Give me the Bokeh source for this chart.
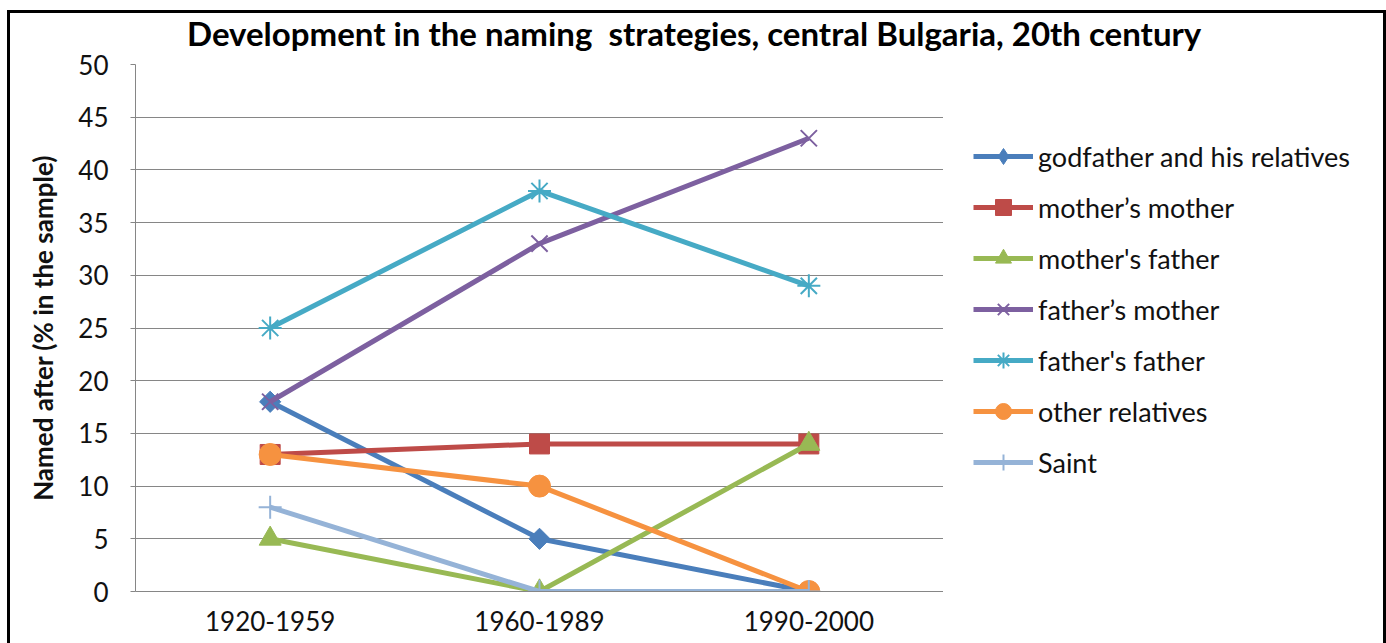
import math
from bokeh.plotting import figure
from bokeh.layouts import column, row
from bokeh.models import (Range1d, FactorRange, FixedTicker, Legend, LegendItem,
                          ColumnDataSource, Div)
from bokeh.embed import file_html
from bokeh.resources import INLINE

# ---------------- data ----------------
periods = ["1920-1959", "1960-1989", "1990-2000"]
godfather = [18, 5, 0]
mothers_mother = [13, 14, 14]
mothers_father = [5, 0, 14]
fathers_mother = [18, 33, 43]
fathers_father = [25, 38, 29]
other_relatives = [13, 10, 0]
saint = [8, 0, 0]
series_names = ["godfather and his relatives", "mother\u2019s mother", "mother's father",
                "father\u2019s mother", "father's father", "other relatives", "Saint"]
y_ticks = [0, 5, 10, 15, 20, 25, 30, 35, 40, 45, 50]
title_text = "Development in the naming  strategies, central Bulgaria, 20th century"
y_label = "Named after (% in the sample)"

# ---------------- style ----------------
FONT = "Lato"
colors = ["#4A7EBB", "#BE4B48", "#98B954", "#7D60A0", "#46AAC5", "#F69240", "#95B3D7"]
markers = ["square", "square", "triangle", "x", "asterisk", "circle", "cross"]
legend_markers = ["diamond", "square", "triangle", "x", "asterisk", "circle", "cross"]
msizes = [15, 20, 22, 23, 23, 22, 23]
mangles = [math.pi / 4, 0, 0, 0, 0, 0, 0]
mlw = [1, 1, 1, 2, 2, 1, 2]

# whole chart placed at page (7, 10)
OX, OY = 7, 10
TOTAL_W, TOTAL_H = 1386 - OX, 643 - OY
TITLE_H = 37
MAIN_W = 943 - OX                    # main plot ends where the plot area ends
LEG_W = TOTAL_W - MAIN_W
PLOT_H = TOTAL_H - TITLE_H
FRAME_L = 135 - OX
FRAME_T = 64 - OY - TITLE_H
FRAME_H = 527

title_div = Div(
    text=('<div style="font-family:Lato; font-weight:bold; font-size:33px; '
          'line-height:44px; padding-top:1px; padding-left:180px; color:#000; '
          'white-space:pre; margin:0; overflow:visible">' + title_text + '</div>'),
    width=TOTAL_W, height=TITLE_H, margin=(0, 0, 0, 0),
    styles={"overflow": "visible"})

p = figure(width=MAIN_W, height=PLOT_H, output_backend="svg", toolbar_location=None,
           title=None,
           x_range=FactorRange(factors=periods, range_padding=0),
           y_range=Range1d(0, 50),
           min_border_left=FRAME_L, min_border_top=FRAME_T,
           min_border_right=0,
           min_border_bottom=PLOT_H - FRAME_T - FRAME_H)
p.border_fill_alpha = 0
p.background_fill_color = "white"
p.outline_line_color = None

# axes
p.yaxis.ticker = FixedTicker(ticks=y_ticks)
p.yaxis.axis_line_color = "#868686"
p.yaxis.major_tick_line_color = "#868686"
p.yaxis.major_tick_in = 0
p.yaxis.major_tick_out = 5
p.yaxis.minor_tick_line_color = None
p.yaxis.major_label_standoff = 22
p.yaxis.major_label_text_font = FONT
p.yaxis.major_label_text_font_size = "26px"
p.yaxis.major_label_text_color = "#111111"
p.yaxis.axis_label = y_label
p.yaxis.axis_label_text_font = FONT
p.yaxis.axis_label_text_font_style = "bold"
p.yaxis.axis_label_text_font_size = "26px"
p.yaxis.axis_label_text_color = "#111111"
p.yaxis.axis_label_standoff = 16

p.xaxis.axis_line_color = "#868686"
p.xaxis.major_tick_line_color = None
p.xaxis.major_tick_in = 0
p.xaxis.major_tick_out = 0
p.xaxis.minor_tick_line_color = None
p.xaxis.major_label_standoff = 19
p.xaxis.major_label_text_font = FONT
p.xaxis.major_label_text_font_size = "26px"
p.xaxis.major_label_text_color = "#111111"

p.xgrid.grid_line_color = None
p.ygrid.grid_line_color = "#868686"
p.ygrid.grid_line_width = 1

# legend panel: its own plot with the same scales, series hidden, legend only
pl = figure(width=LEG_W, height=PLOT_H, output_backend="svg", toolbar_location=None,
            title=None, x_range=p.x_range, y_range=p.y_range,
            x_axis_location=None, y_axis_location=None, min_border=0)
pl.grid.visible = False
pl.outline_line_color = None
pl.background_fill_alpha = 0
pl.border_fill_alpha = 0

# series
all_series = [godfather, mothers_mother, mothers_father, fathers_mother,
              fathers_father, other_relatives, saint]
items = []
for name, vals, col, mk, lmk, ms, ang, lw in zip(series_names, all_series, colors,
                                                  markers, legend_markers, msizes,
                                                  mangles, mlw):
    src = ColumnDataSource(dict(x=periods, y=vals))
    p.line("x", "y", source=src, line_color=col, line_width=5)
    p.scatter("x", "y", source=src, marker=mk, size=ms, angle=ang,
              fill_color=col, line_color=col, line_width=lw)
    l1 = pl.line("x", "y", source=src, line_color=col, line_width=5, visible=False)
    l2 = pl.scatter("x", "y", source=src, marker=lmk, size=ms, fill_color=col,
                    line_color=col, line_width=lw, visible=False)
    items.append(LegendItem(label=name, renderers=[l1, l2]))

legend = Legend(items=items, location=(30, 109),
                padding=0, margin=0,
                spacing=11, glyph_height=40, label_height=40, glyph_width=60,
                label_standoff=5, border_line_alpha=0, background_fill_alpha=0,
                label_text_font=FONT, label_text_font_size="27px",
                label_text_color="#111111")
pl.add_layout(legend)

layout = column(title_div, row(p, pl, spacing=0), spacing=0)
layout.styles = {"margin-left": f"{OX}px", "margin-top": f"{OY}px",
                 "box-shadow": "inset 3px 3px 0 0 black, inset -3px 0 0 0 black"}

open("out.html", "w").write(file_html(layout, INLINE))
